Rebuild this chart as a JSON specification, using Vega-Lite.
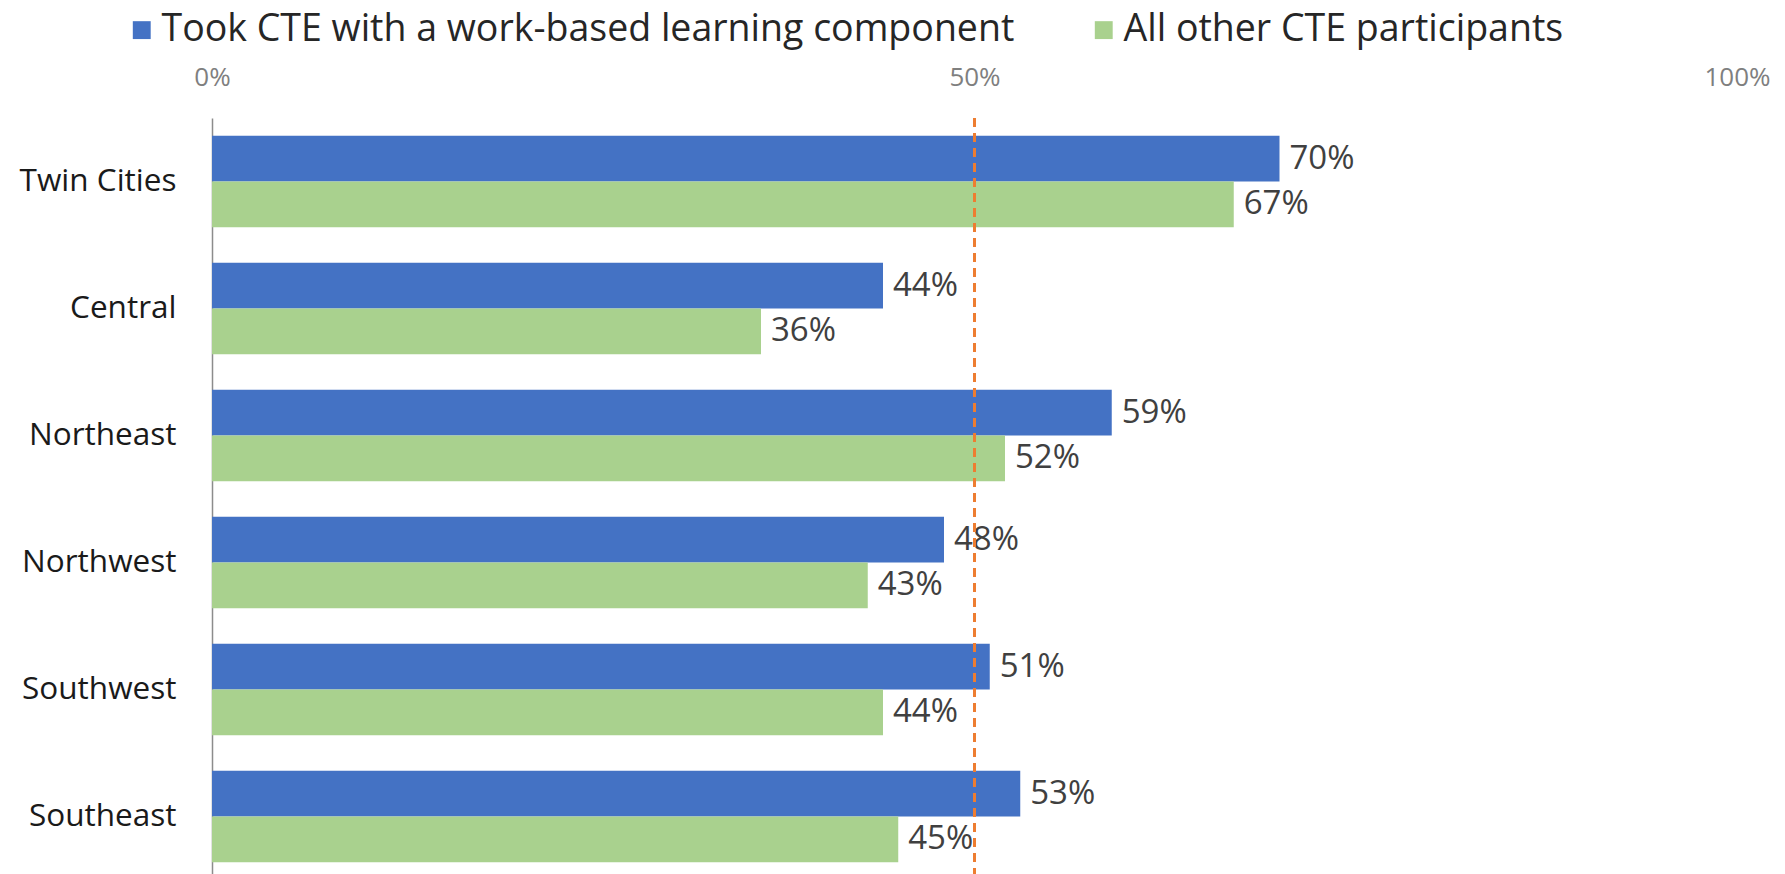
{
  "$schema": "https://vega.github.io/schema/vega-lite/v6.json",
  "width": 1525,
  "height": 762,
  "autosize": {"type": "none"},
  "padding": {"left": 212, "top": 118, "right": 48, "bottom": 0},
  "background": "white",
  "config": {
    "view": {"stroke": null},
    "font": "Open Sans"
  },
  "data": {
    "values": [
      {"region": "Twin Cities", "group": "Took CTE with a work-based learning component", "value": 0.70},
      {"region": "Twin Cities", "group": "All other CTE participants", "value": 0.67},
      {"region": "Central", "group": "Took CTE with a work-based learning component", "value": 0.44},
      {"region": "Central", "group": "All other CTE participants", "value": 0.36},
      {"region": "Northeast", "group": "Took CTE with a work-based learning component", "value": 0.59},
      {"region": "Northeast", "group": "All other CTE participants", "value": 0.52},
      {"region": "Northwest", "group": "Took CTE with a work-based learning component", "value": 0.48},
      {"region": "Northwest", "group": "All other CTE participants", "value": 0.43},
      {"region": "Southwest", "group": "Took CTE with a work-based learning component", "value": 0.51},
      {"region": "Southwest", "group": "All other CTE participants", "value": 0.44},
      {"region": "Southeast", "group": "Took CTE with a work-based learning component", "value": 0.53},
      {"region": "Southeast", "group": "All other CTE participants", "value": 0.45}
    ]
  },
  "encoding": {
    "y": {
      "field": "region",
      "type": "nominal",
      "sort": ["Twin Cities", "Central", "Northeast", "Northwest", "Southwest", "Southeast"],
      "scale": {"paddingInner": 0.28, "paddingOuter": 0.14},
      "axis": {
        "title": null,
        "ticks": false,
        "domain": true,
        "domainColor": "#8c8c8c",
        "domainWidth": 1.5,
        "labelPadding": 36,
        "labelFontSize": 31.5,
        "labelColor": "#1a1a1a",
        "labelFont": "Open Sans"
      }
    },
    "yOffset": {
      "field": "group",
      "type": "nominal",
      "sort": ["Took CTE with a work-based learning component", "All other CTE participants"]
    }
  },
  "layer": [
    {
      "mark": {"type": "bar"},
      "encoding": {
        "x": {
          "field": "value",
          "type": "quantitative",
          "scale": {"domain": [0, 1]},
          "axis": {
            "orient": "top",
            "title": null,
            "values": [0, 0.5, 1],
            "format": ".0%",
            "domain": false,
            "ticks": false,
            "grid": false,
            "labelFlush": false,
            "labelPadding": 28,
            "labelFontSize": 26,
            "labelColor": "#7f7f7f",
            "labelFont": "Open Sans"
          }
        },
        "color": {
          "field": "group",
          "type": "nominal",
          "sort": ["Took CTE with a work-based learning component", "All other CTE participants"],
          "scale": {
            "domain": ["Took CTE with a work-based learning component", "All other CTE participants"],
            "range": ["#4472C4", "#A9D18E"]
          },
          "legend": {
            "title": null,
            "orient": "none",
            "direction": "horizontal",
            "legendX": -89,
            "legendY": -107,
            "symbolType": "square",
            "symbolSize": 320,
            "symbolStrokeWidth": 0,
            "labelFontSize": 37.5,
            "labelColor": "#262626",
            "labelFont": "Open Sans",
            "labelOffset": 1,
            "columnPadding": 70,
            "labelLimit": 1000
          }
        }
      }
    },
    {
      "mark": {"type": "text", "align": "left", "baseline": "middle", "dx": 10, "fontSize": 33, "color": "#404040", "font": "Open Sans"},
      "encoding": {
        "x": {"field": "value", "type": "quantitative"},
        "text": {"field": "value", "type": "quantitative", "format": ".0%"},
        "detail": {"field": "group"}
      }
    },
    {
      "data": {"values": [{"ref": 0.5}]},
      "mark": {"type": "rule", "color": "#ED7D31", "strokeWidth": 3, "strokeDash": [9, 6]},
      "encoding": {
        "x": {"field": "ref", "type": "quantitative"},
        "y": null,
        "yOffset": null
      }
    }
  ]
}
